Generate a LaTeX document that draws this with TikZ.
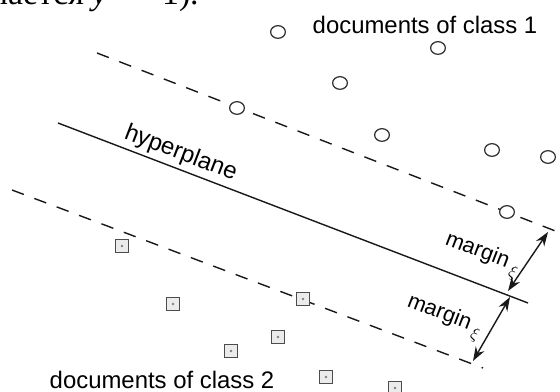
\documentclass[tikz,border=0pt]{standalone}
\usepackage{fontspec}
\setmainfont{Liberation Sans}
\newfontfamily\rusfont{Liberation Serif}
\usetikzlibrary{arrows.meta, shapes.geometric}

\begin{document}
\begin{tikzpicture}[x=0.025cm, y=-0.025cm,
  docone/.style={ellipse, draw=black!80, line width=0.9pt, fill=white,
    minimum width=10.5pt, minimum height=9pt, inner sep=0pt},
  doctwo/.style={rectangle, draw=black!70, line width=0.8pt, fill=black!8,
    minimum size=9pt, inner sep=0pt,
    path picture={\fill[black!50] (path picture bounding box.center) circle (1pt);}},
  hyper/.style={line width=1pt, black!90},
  bound/.style={line width=1pt, black!90, dash pattern=on 9pt off 8pt},
  dimarr/.style={{Stealth[length=10pt, width=7pt]}-{Stealth[length=10pt, width=7pt]},
    line width=1pt, black!90},
  classlbl/.style={font=\fontsize{17}{20}\selectfont},
  slopelbl/.style={font=\fontsize{15.5}{18}\selectfont, rotate=-21,
    anchor=base west, inner sep=0pt},
]
\useasboundingbox (0,0) rectangle (560,392);
\clip (0,0) rectangle (560,392);
% ====== CUT-OFF LINE OF TEXT ABOVE ======
\node[font=\rusfont\fontsize{24}{28}\selectfont, anchor=base east, inner sep=0pt]
  (top_txt) at (199,5) {обозначается \textit{y} = −1).};
%
% ====== HYPERPLANE AND MARGIN BOUNDARIES ======
\coordinate (hp_l) at (58,123);
\coordinate (hp_r) at (528,303);
\coordinate (up_l) at (97,53);
\coordinate (up_r) at (558,232);
\coordinate (lo_l) at (12,190);
\coordinate (lo_r) at (483,368);
\draw[hyper] (hp_l) -- (hp_r);
\draw[bound] (up_l) -- (up_r);
\draw[bound] (lo_l) -- (lo_r);
\node[slopelbl, font=\fontsize{17}{20}\selectfont] (hp_lbl) at (123,138) {hyperplane};
%
% ====== MARGIN ARROWS ======
\coordinate (m_up_a) at (508,291);
\coordinate (m_up_b) at (548,232);
\coordinate (m_lo_a) at (473,361);
\coordinate (m_lo_b) at (510,297);
\draw[dimarr] (m_up_a) -- (m_up_b);
\draw[dimarr] (m_lo_a) -- (m_lo_b);
\node[slopelbl] (m_up_lbl) at (444,244)
  {margin\,\raisebox{-0.55ex}{\fontsize{12}{12}\selectfont$\xi$}};
\node[slopelbl] (m_lo_lbl) at (406,306)
  {margin\,\raisebox{-0.55ex}{\fontsize{12}{12}\selectfont$\xi$}};
%
% ====== CLASS 1 (circles) ======
\node[docone] (c1) at (278,32) {};
\node[docone] (c2) at (438,48) {};
\node[docone] (c3) at (340,83) {};
\node[docone] (c4) at (237,108) {};
\node[docone] (c5) at (382,135) {};
\node[docone] (c6) at (492,150) {};
\node[docone] (c7) at (548,157) {};
\node[docone] (c8) at (507,212) {};
\node[classlbl] (c_lbl) at (425,25) {documents of class 1};
%
% ====== CLASS 2 (squares) ======
\node[doctwo] (s1) at (122,246) {};
\node[doctwo] (s2) at (173,304) {};
\node[doctwo] (s3) at (303,299) {};
\node[doctwo] (s4) at (278,337) {};
\node[doctwo] (s5) at (231,351) {};
\node[doctwo] (s6) at (326,377) {};
\node[doctwo] (s7) at (395,388) {};
\node[classlbl] (s_lbl) at (162,380) {documents of class 2};
\end{tikzpicture}
\end{document}
